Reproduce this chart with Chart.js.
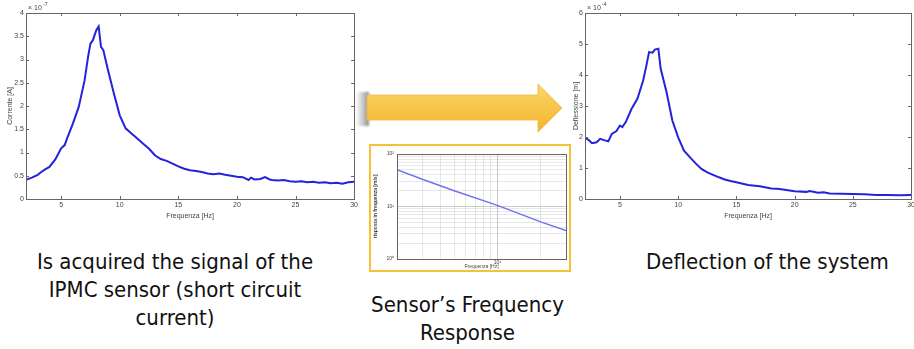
<!DOCTYPE html>
<html>
<head>
<meta charset="utf-8">
<title>IPMC sensor</title>
<script src="https://cdn.jsdelivr.net/npm/chart.js"></script>
<style>
body { margin: 0; width: 914px; height: 349px; overflow: hidden; background: #fff; position: relative; }
.box { position: absolute; }
.txt { position: absolute; font-family: "Liberation Sans Narrow", "DejaVu Sans Condensed", sans-serif; font-size: 22px; color: #111; text-align: center; line-height: 28px; }
#small { border: 2px solid #f5c235; background: #fff; }
</style>
</head>
<body>
<div class="box" style="left:0;top:0;width:360px;height:220px"><canvas id="left"></canvas></div>
<div class="box" style="left:571px;top:0;width:346px;height:220px"><canvas id="right"></canvas></div>
<div class="box" id="small" style="left:369px;top:144px;width:198px;height:124px"><canvas id="resp"></canvas></div>

<svg class="box" style="left:340px;top:70px" width="240" height="80">
  <defs>
    <linearGradient id="g" x1="0" y1="0" x2="0" y2="1">
      <stop offset="0" stop-color="#fbd66a"/>
      <stop offset="1" stop-color="#f4b42a"/>
    </linearGradient>
    <linearGradient id="sh" x1="0" y1="0" x2="1" y2="0">
      <stop offset="0" stop-color="#bbb" stop-opacity="0.2"/>
      <stop offset="1" stop-color="#888"/>
    </linearGradient>
    <filter id="f"><feGaussianBlur stdDeviation="1.2"/></filter>
  </defs>
  <rect x="17" y="22" width="12" height="34" fill="url(#sh)" filter="url(#f)"/>
  <polygon points="27,25 198,25 198,14 222,38 198,62 198,50 27,50" fill="url(#g)" stroke="#f0b540" stroke-width="0.8"/>
</svg>

<div class="txt" style="left:10px;top:248px;width:330px">Is acquired the signal of the<br>IPMC sensor (short circuit<br>current)</div>
<div class="txt" style="left:360px;top:291px;width:215px">Sensor’s Frequency<br>Response</div>
<div class="txt" style="left:620px;top:248px;width:295px">Deflection of the system</div>

<script>
// IPMC short circuit current (x1e-7 A)
const freqCurrent = [2, 2.5, 3, 3.3, 3.6, 4, 4.5, 5, 5.3, 5.5, 6, 6.5, 7, 7.3, 7.5, 7.7, 8, 8.2, 8.4, 8.6, 9, 9.5, 10, 10.5, 11, 11.5, 12, 12.5, 13, 13.5, 14, 14.5, 15, 15.5, 16, 16.5, 17, 17.5, 18, 18.5, 19, 19.5, 20, 20.5, 21, 21.2, 21.5, 22, 22.4, 22.8, 23, 23.5, 24, 24.5, 25, 25.5, 26, 26.5, 27, 27.5, 28, 28.5, 29, 29.5, 30];
const current = [0.41, 0.46, 0.52, 0.58, 0.63, 0.69, 0.85, 1.09, 1.16, 1.3, 1.62, 1.98, 2.55, 3.06, 3.34, 3.41, 3.63, 3.71, 3.27, 3.2, 2.77, 2.27, 1.8, 1.52, 1.41, 1.3, 1.19, 1.08, 0.94, 0.86, 0.82, 0.76, 0.7, 0.65, 0.62, 0.6, 0.58, 0.55, 0.53, 0.55, 0.52, 0.5, 0.48, 0.47, 0.41, 0.46, 0.42, 0.43, 0.47, 0.42, 0.41, 0.4, 0.41, 0.38, 0.37, 0.38, 0.36, 0.37, 0.35, 0.36, 0.34, 0.35, 0.33, 0.36, 0.37];

// system deflection (x1e-4 m)
const freqDefl = [2, 2.3, 2.6, 3, 3.3, 3.7, 4, 4.3, 4.7, 5, 5.2, 5.5, 6, 6.5, 7, 7.3, 7.5, 7.8, 8, 8.3, 8.5, 9, 9.5, 10, 10.5, 11, 11.5, 12, 12.5, 13, 13.5, 14, 14.5, 15, 16, 17, 18, 18.5, 19, 20, 21, 21.3, 22, 22.5, 23, 24, 25, 26, 27, 28, 29, 30];
const deflection = [1.97, 1.91, 1.8, 1.83, 1.94, 1.89, 1.86, 2.1, 2.19, 2.37, 2.32, 2.48, 2.91, 3.23, 3.83, 4.36, 4.74, 4.72, 4.82, 4.85, 4.2, 3.45, 2.53, 1.99, 1.56, 1.35, 1.15, 0.97, 0.86, 0.78, 0.7, 0.63, 0.58, 0.54, 0.45, 0.41, 0.34, 0.33, 0.31, 0.25, 0.23, 0.26, 0.2, 0.22, 0.18, 0.17, 0.16, 0.15, 0.13, 0.13, 0.12, 0.13];

// sensor frequency response (log-log)
const freqResp = [2, 3, 5, 10, 20, 30];
const response = [50, 33, 20, 10.5, 5.1, 3.5];

const linTicks = [5, 10, 15, 20, 25, 30];
const logFreqTicks = [2, 3, 4, 5, 6, 7, 8, 9, 10, 20, 30];
const logRespTicks = [1, 2, 3, 4, 5, 6, 7, 8, 9, 10, 20, 30, 40, 50, 60, 70, 80, 90, 100];

const pts = (xs, ys) => xs.map((x, i) => ({x: x, y: ys[i]}));

// matlab-ish box with inward ticks
const matBox = {
  id: 'matBox',
  afterDraw(chart, args, opts) {
    const {ctx, chartArea: a, scales} = chart;
    ctx.save();
    ctx.strokeStyle = '#666';
    ctx.lineWidth = 1;
    ctx.strokeRect(Math.round(a.left) + 0.5, Math.round(a.top) + 0.5, Math.round(a.width), Math.round(a.height));
    if (opts.ticks) {
      const len = 3;
      ctx.beginPath();
      scales.x.ticks.forEach(t => {
        const p = Math.round(scales.x.getPixelForValue(t.value)) + 0.5;
        ctx.moveTo(p, a.bottom); ctx.lineTo(p, a.bottom - len);
        ctx.moveTo(p, a.top); ctx.lineTo(p, a.top + len);
      });
      scales.y.ticks.forEach(t => {
        const p = Math.round(scales.y.getPixelForValue(t.value)) + 0.5;
        ctx.moveTo(a.left, p); ctx.lineTo(a.left + len, p);
        ctx.moveTo(a.right, p); ctx.lineTo(a.right - len, p);
      });
      ctx.stroke();
    }
    if (opts.exp) {
      ctx.fillStyle = '#444';
      ctx.font = '7px "Liberation Sans", sans-serif';
      ctx.fillText('\u00d7 10', a.left + 2, a.top - 3);
      ctx.font = '5px "Liberation Sans", sans-serif';
      ctx.fillText(opts.exp, a.left + 17, a.top - 7);
    }
    ctx.restore();
  }
};

const tickFont = { size: 7, family: 'Liberation Sans' };

function freqChart(id, xs, ys, yMax, yStep, yTitle, exp, yWidth, padRight, titlePad) {
  return new Chart(document.getElementById(id), {
    type: 'line',
    data: {
      datasets: [{
        data: pts(xs, ys),
        borderColor: '#2323d9',
        borderWidth: 2,
        pointRadius: 0,
        tension: 0
      }]
    },
    plugins: [matBox],
    options: {
      responsive: true,
      maintainAspectRatio: false,
      animation: false,
      layout: { padding: { top: 13, right: padRight, left: 0, bottom: 0 } },
      plugins: { legend: { display: false }, tooltip: { enabled: false }, matBox: { ticks: true, exp: exp } },
      scales: {
        x: {
          type: 'linear', min: 2, max: 30,
          afterBuildTicks: s => { s.ticks = linTicks.map(v => ({value: v})); },
          afterFit: s => { s.height = 21; },
          grid: { display: false, tickLength: 0 },
          border: { display: false },
          ticks: { color: '#444', font: tickFont, padding: 2, maxRotation: 0 },
          title: { display: true, text: 'Frequenza [Hz]', color: '#444', font: tickFont, padding: 0 }
        },
        y: {
          min: 0, max: yMax,
          afterFit: s => { s.width = yWidth; },
          grid: { display: false, tickLength: 0 },
          border: { display: false },
          ticks: { stepSize: yStep, color: '#444', font: tickFont, padding: 2, callback: v => String(+v.toFixed(2)) },
          title: { display: true, text: yTitle, color: '#444', font: tickFont, padding: { top: titlePad, bottom: 0 } }
        }
      }
    }
  });
}

freqChart('left', freqCurrent, current, 4, 0.5, 'Corrente [A]', '-7', 26, 5, 6);
freqChart('right', freqDefl, deflection, 6, 1, 'Deflessione [m]', '-4', 14, 4, 1);

const supLabel = {1: '10\u2070', 10: '10\u00b9', 100: '10\u00b2'};
const logGrid = () => ({
  color: ctx => [1, 10, 100].includes(ctx.tick && ctx.tick.value) ? 'rgba(0,0,0,0.2)' : 'rgba(0,0,0,0.09)',
  drawTicks: false,
  tickLength: 0
});

new Chart(document.getElementById('resp'), {
  type: 'line',
  data: {
    datasets: [{
      data: pts(freqResp, response),
      borderColor: '#7272ee',
      borderWidth: 1.5,
      pointRadius: 0,
      tension: 0
    }]
  },
  plugins: [matBox],
  options: {
    responsive: true,
    maintainAspectRatio: false,
    animation: false,
    layout: { padding: { top: 8, right: 3, left: 0, bottom: 0 } },
    plugins: { legend: { display: false }, tooltip: { enabled: false }, matBox: { ticks: false } },
    scales: {
      x: {
        type: 'logarithmic', min: 2, max: 30,
        afterBuildTicks: s => { s.ticks = logFreqTicks.map(v => ({value: v})); },
        afterFit: s => { s.height = 11; },
        grid: logGrid(),
        border: { display: false },
        ticks: { autoSkip: false, maxRotation: 0, color: '#444', font: { size: 5 }, padding: 1, callback: v => v === 10 ? supLabel[10] : '' },
        title: { display: true, text: 'Frequenza [Hz]', color: '#444', font: { size: 5 }, padding: 0 }
      },
      y: {
        type: 'logarithmic', min: 1, max: 100,
        afterBuildTicks: s => { s.ticks = logRespTicks.map(v => ({value: v})); },
        afterFit: s => { s.width = 26; },
        grid: logGrid(),
        border: { display: false },
        ticks: { autoSkip: false, color: '#444', font: { size: 5 }, padding: 3, callback: v => supLabel[v] || '' },
        title: { display: true, text: 'risposta in frequenza [m/s]', color: '#444', font: { size: 5, weight: 'bold' }, padding: { top: 2 } }
      }
    }
  }
});
</script>
</body>
</html>
